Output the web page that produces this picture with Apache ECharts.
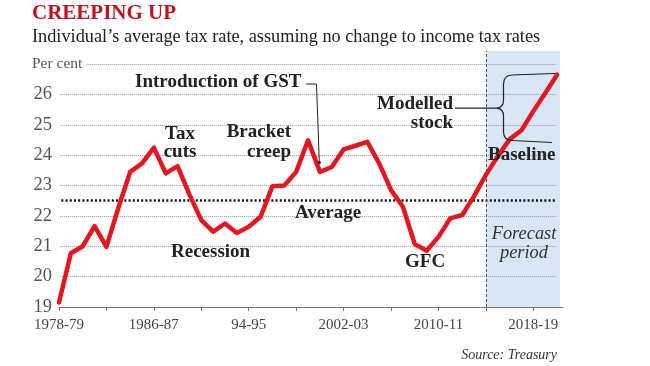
<!DOCTYPE html>
<html><head><meta charset="utf-8">
<script src="https://cdn.jsdelivr.net/npm/echarts@6/dist/echarts.min.js"></script>
<style>html,body{margin:0;padding:0;background:#fff}#c{width:650px;height:366px}</style>
</head><body><div id="c"></div>
<script>
// ---- data ----
const years = ['1978-79','1979-80','1980-81','1981-82','1982-83','1983-84','1984-85','1985-86','1986-87','1987-88',
  '1988-89','1989-90','1990-91','1991-92','1992-93','1993-94','94-95','1995-96','1996-97','1997-98',
  '1998-99','1999-00','2000-01','2001-02','2002-03','2003-04','2004-05','2005-06','2006-07','2007-08',
  '2008-09','2009-10','2010-11','2011-12','2012-13','2013-14','2014-15','2015-16','2016-17','2017-18',
  '2018-19','2019-20','2020-21'];
const taxRate = [19.15,20.77,21.0,21.66,20.98,22.26,23.45,23.73,24.25,23.4,
  23.64,22.7,21.86,21.48,21.75,21.44,21.64,21.97,22.98,23.0,
  23.45,24.49,23.45,23.61,24.19,24.31,24.44,23.73,22.85,22.3,
  21.07,20.85,21.31,21.92,22.03,22.65,23.35,23.96,24.52,24.82,
  25.45,26.04,26.65];
const xTickIdx = [0,4,8,12,16,20,24,28,32,36,40];
const xLabelIdx = [0,8,16,24,32,40];
const yTicks = [19,20,21,22,23,24,25,26];
const gridValues = [20,21,22,23,24,25,26,27];
const averageRate = 22.5;
const forecastStart = 36;   // 2014-15
const forecastEnd = 42.25;

const SERIF = '"Liberation Serif", "DejaVu Serif", serif';
const chart = echarts.init(document.getElementById('c'), null, {renderer:'canvas'});

const gridLines = gridValues.map(v => [
  {coord:[v === 27 ? 2.3 : 0.1, v]}, {coord:[41.9, v]}
]);

const INK = {stroke:'#222', lineWidth:1.2, fill:null};
function seg(x1,y1,x2,y2){ return {type:'line', z:100, shape:{x1,y1,x2,y2}, style:INK}; }
function qb(x1,y1,cx,cy,x2,y2){ return {type:'bezierCurve', z:100, shape:{x1,y1,x2,y2,cpx1:cx,cpy1:cy}, style:INK}; }
const BOLD = 'bold 19px ' + SERIF;

chart.setOption({
  animation:false,
  grid:{left:59, right:87, top:51, bottom:59, containLabel:false},
  xAxis:{type:'value', min:0, max:42.5,
    axisLine:{show:true, lineStyle:{color:'#777', width:1}},
    axisTick:{show:true, length:4, customValues:xTickIdx, lineStyle:{color:'#777'}},
    axisLabel:{customValues:xLabelIdx, formatter:v=>years[v], margin:11,
      fontFamily:SERIF, fontSize:15, color:'#444'},
    splitLine:{show:false}},
  yAxis:{type:'value', min:19, max:27.43,
    axisLine:{show:false}, axisTick:{show:false},
    axisLabel:{customValues:yTicks, margin:7, fontFamily:SERIF, fontSize:18.5, color:'#555'},
    splitLine:{show:false}},
  series:[
    {type:'line', z:0, silent:true, symbol:'none', lineStyle:{opacity:0},
     data: taxRate.map((v,i)=>[i,v]),
     markArea:{silent:true, itemStyle:{color:'#d8e6f5'},
       data:[[{coord:[forecastStart,19]},{coord:[forecastEnd,27.43]}]]}},
    {type:'line', z:1, silent:true, symbol:'none', lineStyle:{opacity:0},
     data: taxRate.map((v,i)=>[i,v]),
     markLine:{silent:true, symbol:['none','none'], label:{show:false},
       lineStyle:{color:'#9a9a9a', type:'dotted', width:1},
       data: gridLines.concat([
         [{coord:[0.2, averageRate], lineStyle:{color:'#111', type:[2,2.2], width:2.6}},
          {coord:[41.9, averageRate]}],
         [{coord:[forecastStart,19], lineStyle:{color:'#555', type:[3,2], width:1}},
          {coord:[forecastStart,27.43]}]
       ])}},
    {type:'line', z:5, symbol:'none', data: taxRate.map((v,i)=>[i,v]),
     lineStyle:{color:'#e5161f', width:4.5, join:'round', cap:'round'}}
  ],
  graphic:[
    {type:'text', x:32, y:14, z:100, style:{text:'CREEPING UP', font:'bold 21px '+SERIF, fill:'#c0141f', textVerticalAlign:'middle'}},
    {type:'text', x:32, y:37.5, z:100, style:{text:'Individual\u2019s average tax rate, assuming no change to income tax rates', font:'18.3px '+SERIF, fill:'#222', textVerticalAlign:'middle'}},
    {type:'text', x:32, y:64, z:100, style:{text:'Per cent', font:'15.5px '+SERIF, fill:'#555', textVerticalAlign:'middle', backgroundColor:'#fff', padding:[0,4,0,0]}},
    {type:'text', x:557, y:355, z:100, style:{text:'Source: Treasury', font:'italic 14px '+SERIF, fill:'#333', textAlign:'right', textVerticalAlign:'middle'}},
    {type:'text', x:135, y:82, z:100, style:{text:'Introduction of GST', font:BOLD, fill:'#222', textVerticalAlign:'middle'}},
    {type:'text', x:180, y:143, z:100, style:{text:'Tax\ncuts', font:BOLD, fill:'#222', textAlign:'center', textVerticalAlign:'middle', lineHeight:18}},
    {type:'text', x:291, y:142, z:100, style:{text:'Bracket\ncreep', font:BOLD, fill:'#222', textAlign:'right', textVerticalAlign:'middle', lineHeight:20}},
    {type:'text', x:171, y:252, z:100, style:{text:'Recession', font:BOLD, fill:'#222', textVerticalAlign:'middle'}},
    {type:'text', x:295, y:213, z:100, style:{text:'Average', font:BOLD, fill:'#222', textVerticalAlign:'middle'}},
    {type:'text', x:405, y:262, z:100, style:{text:'GFC', font:BOLD, fill:'#222', textVerticalAlign:'middle'}},
    {type:'text', x:453, y:113.5, z:100, style:{text:'Modelled\nstock', font:BOLD, fill:'#222', textAlign:'right', textVerticalAlign:'middle', lineHeight:19}},
    {type:'text', x:488, y:155, z:100, style:{text:'Baseline', font:BOLD, fill:'#222', textVerticalAlign:'middle'}},
    {type:'text', x:524, y:243.5, z:100, style:{text:'Forecast\nperiod', font:'italic 18.4px '+SERIF, fill:'#333', textAlign:'center', textVerticalAlign:'middle', lineHeight:19}},
    {type:'polyline', z:100, shape:{points:[[306,84],[316.5,84],[319.3,162]]}, style:{stroke:'#222', lineWidth:1, fill:null}},
    {type:'circle', z:100, shape:{cx:319.3, cy:162.5, r:1.6}, style:{fill:'#222'}},
    seg(555,73.5,512,75),
    qb(512,75,503.5,75.5,503.5,84),
    seg(503.5,84,503.5,100),
    qb(503.5,100,503.5,107.5,497,108.2),
    qb(497,108.2,503.5,109,503.5,116),
    seg(503.5,116,503.5,132),
    qb(503.5,132,503.5,140,512,140.5),
    seg(512,140.5,552,142.5),
    seg(455,108.2,497,108.2)
  ]
});
</script></body></html>
